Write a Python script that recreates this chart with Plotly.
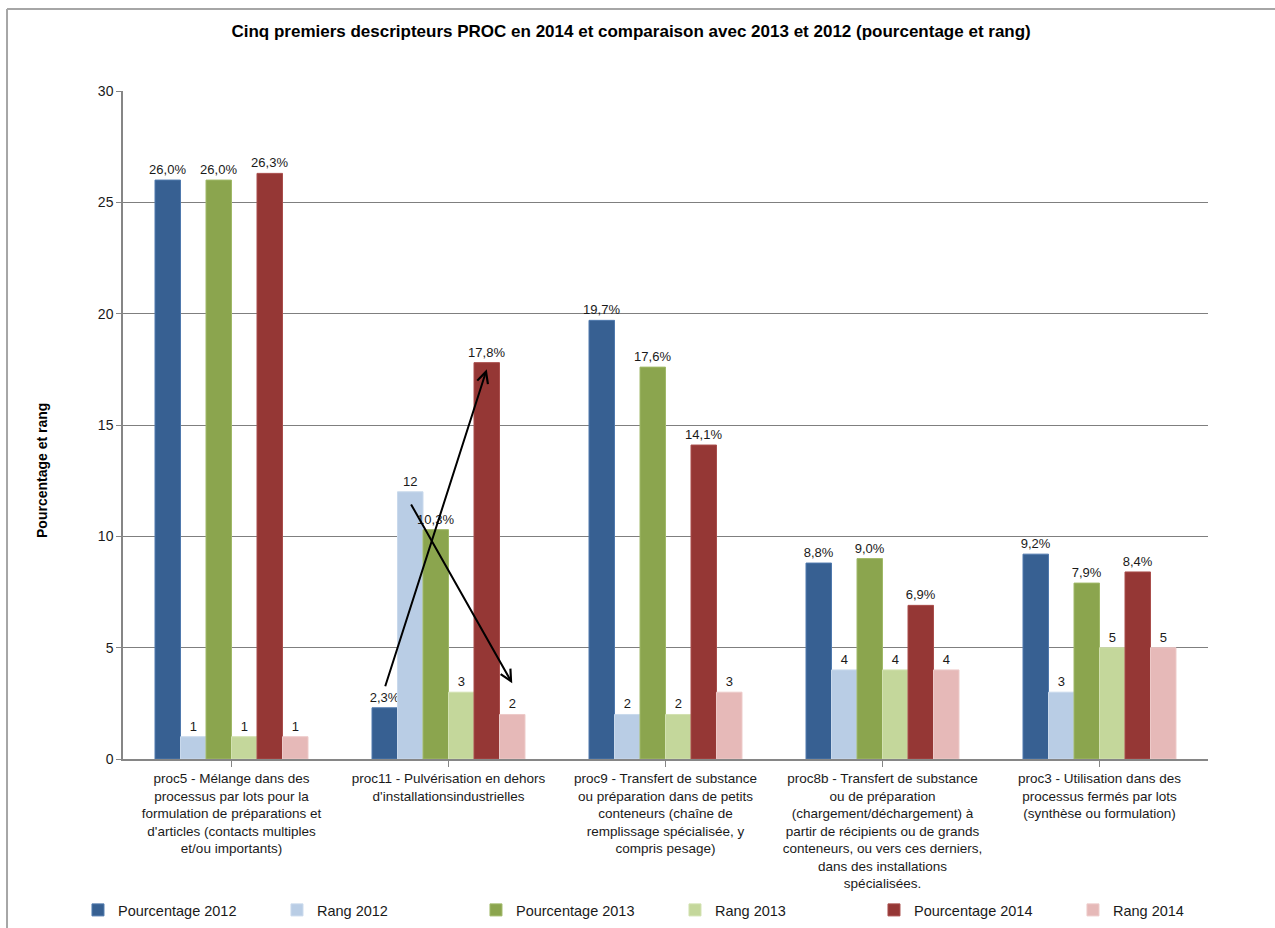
import plotly.graph_objects as go

categories = [
    "proc5 - Mélange dans des<br>processus par lots pour la<br>formulation de préparations et<br>d'articles (contacts multiples<br>et/ou importants)",
    "proc11 - Pulvérisation en dehors<br>d'installationsindustrielles",
    "proc9 - Transfert de substance<br>ou préparation dans de petits<br>conteneurs (chaîne de<br>remplissage spécialisée, y<br>compris pesage)",
    "proc8b - Transfert de substance<br>ou de préparation<br>(chargement/déchargement) à<br>partir de récipients ou de grands<br>conteneurs, ou vers ces derniers,<br>dans des installations<br>spécialisées.",
    "proc3 - Utilisation dans des<br>processus fermés par lots<br>(synthèse ou formulation)",
]

pct_2012 = [26.0, 2.3, 19.7, 8.8, 9.2]
rang_2012 = [1, 12, 2, 4, 3]
pct_2013 = [26.0, 10.3, 17.6, 9.0, 7.9]
rang_2013 = [1, 3, 2, 4, 5]
pct_2014 = [26.3, 17.8, 14.1, 6.9, 8.4]
rang_2014 = [1, 2, 3, 4, 5]

series = [
    ("Pourcentage 2012", pct_2012, "#376092", "#4f79ad", True),
    ("Rang 2012", rang_2012, "#B9CDE5", "#c9d9ec", False),
    ("Pourcentage 2013", pct_2013, "#8BA54E", "#a0b968", True),
    ("Rang 2013", rang_2013, "#C4D79B", "#d2e1b0", False),
    ("Pourcentage 2014", pct_2014, "#953735", "#a94d4b", True),
    ("Rang 2014", rang_2014, "#E6B9B8", "#edcac9", False),
]


def fmt_pct(v):
    return f"{v:.1f}".replace(".", ",") + "%"


fig = go.Figure()
for name, vals, color, edge, is_pct in series:
    labels = [fmt_pct(v) if is_pct else str(v) for v in vals]
    fig.add_trace(go.Bar(
        name=name,
        x=list(range(len(categories))),
        y=vals,
        text=labels,
        textposition="outside",
        constraintext="none",
        textfont=dict(family="Liberation Sans", size=13, color="#1a1a1a"),
        marker=dict(color=color, line=dict(color=edge, width=1)),
        cliponaxis=False,
    ))

# Arrows highlighting the change for proc11 between 2012 and 2014
bargap = 0.295
n_series = len(series)
bar_w = (1 - bargap) / n_series


def bar_center(cat_idx, series_idx):
    return cat_idx - (1 - bargap) / 2 + (series_idx + 0.5) * bar_w


k = 1
arrows = [
    (bar_center(k, 0), pct_2012[k] + 0.9, bar_center(k, 4), pct_2014[k] - 0.3),
    (bar_center(k, 1), rang_2012[k] - 0.5, bar_center(k, 5), rang_2014[k] + 1.4),
]
for x0, y0, x1, y1 in arrows:
    fig.add_annotation(
        x=x1, y=y1, ax=x0, ay=y0, xref="x", yref="y", axref="x", ayref="y",
        text="", showarrow=True, arrowhead=5, arrowsize=1.1, arrowwidth=2,
        arrowcolor="#000000",
    )

# Vertical axis title, drawn as a rotated annotation
fig.add_annotation(
    text="<b>Pourcentage et rang</b>", textangle=-90,
    xref="paper", yref="paper", x=-0.0747, y=0.4326,
    xanchor="center", yanchor="middle", showarrow=False,
    font=dict(family="Liberation Sans", size=14, color="#000000"),
)

# Outer chart frame
fig.add_shape(type="line", xref="paper", yref="paper", x0=-0.1069, x1=-0.1069,
              y0=-0.3, y1=1.1228, line=dict(color="#a6a6a6", width=2))
fig.add_shape(type="line", xref="paper", yref="paper", x0=-0.1069, x1=1.1,
              y0=1.1228, y1=1.1228, line=dict(color="#a6a6a6", width=2))

fig.update_layout(
    width=1275, height=928,
    margin=dict(l=123, r=67, t=91, b=169, autoexpand=False),
    paper_bgcolor="white", plot_bgcolor="white",
    barmode="group", bargap=bargap, bargroupgap=0,
    title=dict(
        text="<b>Cinq premiers descripteurs PROC en 2014 et comparaison avec 2013 et 2012 (pourcentage et rang)</b>",
        x=0.495, xanchor="center", xref="container", y=0.967, yanchor="middle",
        font=dict(family="Liberation Sans", size=17, color="#000000"),
    ),
    font=dict(family="Liberation Sans", size=13, color="#1a1a1a"),
    xaxis=dict(
        tickmode="array", tickvals=list(range(len(categories))), ticktext=categories,
        range=[-0.5, len(categories) - 0.5],
        showline=True, linecolor="#868686", linewidth=1.5,
        ticks="outside", tickson="boundaries", ticklen=6, tickcolor="#868686",
        tickangle=0, showgrid=False, zeroline=False, automargin=False,
        tickfont=dict(family="Liberation Sans", size=13.5, color="#1a1a1a"),
    ),
    yaxis=dict(
        range=[0, 30], dtick=5, showline=True, linecolor="#868686", linewidth=1.5,
        ticks="outside", ticklen=5, tickcolor="#868686", automargin=False,
        showgrid=True, gridcolor="#7f7f7f", gridwidth=1, zeroline=False,
        tickfont=dict(family="Liberation Sans", size=14, color="#1a1a1a"),
    ),
    legend=dict(
        orientation="h", x=-0.0415, xanchor="left", y=-0.226, yanchor="middle",
        entrywidth=154, entrywidthmode="pixels", itemwidth=30,
        font=dict(family="Liberation Sans", size=14.5, color="#1a1a1a"),
        traceorder="normal",
    ),
)

fig.write_html("out.html")
